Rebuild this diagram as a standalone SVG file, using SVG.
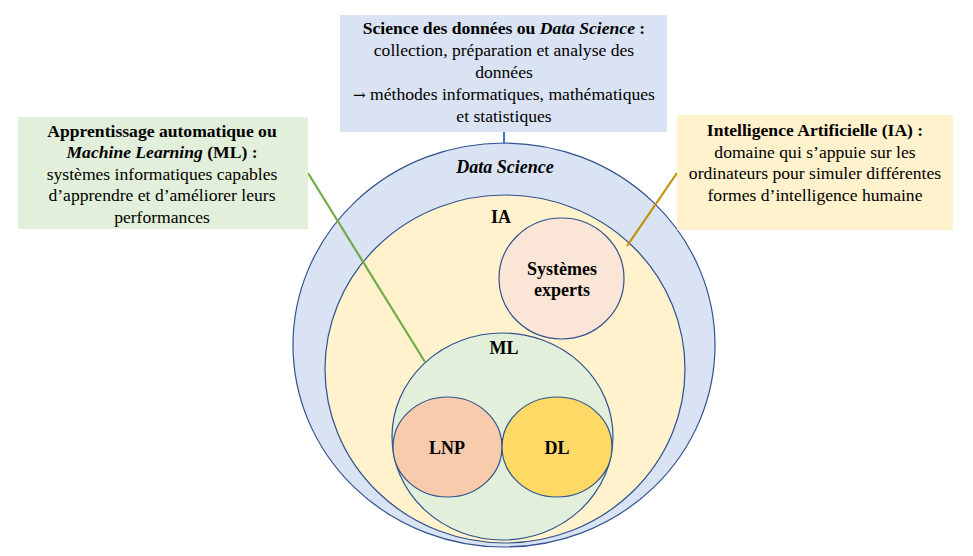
<svg xmlns="http://www.w3.org/2000/svg" width="973" height="556" viewBox="0 0 973 556">
<style>
text{font-family:"Liberation Serif","Times New Roman",serif;font-size:17.6px;fill:#000;text-anchor:middle}
.b{font-weight:bold}
.i{font-style:italic}
.lbl{font-weight:bold;font-size:18px}
.c{stroke:#2f528f;stroke-width:1.2}
</style>
<rect width="973" height="556" fill="#fff"/>
<g id="data-science">
<ellipse class="c" cx="504" cy="345" rx="211" ry="202" fill="#dae3f3"/>
<text class="lbl i" x="505" y="173">Data Science</text>
</g>
<g id="ia">
<ellipse class="c" cx="505" cy="369" rx="180" ry="174" fill="#fff2cc"/>
<text class="lbl" x="501" y="223">IA</text>
</g>
<g id="systemes-experts">
<ellipse class="c" cx="561.5" cy="278.5" rx="62.5" ry="60.5" fill="#fbe5d6"/>
<text class="lbl" x="562" y="275">Systèmes</text>
<text class="lbl" x="562" y="296">experts</text>
</g>
<g id="ml">
<ellipse class="c" cx="502.5" cy="436.5" rx="110.5" ry="103.5" fill="#e2efda"/>
<text class="lbl" x="504" y="354">ML</text>
</g>
<g id="lnp">
<ellipse class="c" cx="447.5" cy="447" rx="54.5" ry="50" fill="#f8cbad"/>
<text class="lbl" x="447" y="454">LNP</text>
</g>
<g id="dl">
<ellipse class="c" cx="557" cy="447" rx="55" ry="50" fill="#ffd966"/>
<text class="lbl" x="557" y="454">DL</text>
</g>
<g id="connectors">
<line x1="504" y1="132" x2="504" y2="144" stroke="#4472c4" stroke-width="2"/>
<line x1="308" y1="173" x2="425" y2="362" stroke="#70ad47" stroke-width="2.2"/>
<line x1="677" y1="173" x2="627" y2="246" stroke="#bf9000" stroke-width="2.2"/>
</g>
<g id="box-data-science">
<rect x="340" y="15" width="327" height="117" fill="#dae3f3"/>
<text x="504" y="34"><tspan class="b">Science des données ou </tspan><tspan class="b i">Data Science</tspan><tspan class="b"> :</tspan></text>
<text x="504" y="56">collection, préparation et analyse des</text>
<text x="504" y="78">données</text>
<text x="504" y="100"><tspan font-family="DejaVu Serif" font-size="15">→</tspan> méthodes informatiques, mathématiques</text>
<text x="504" y="122">et statistiques</text>
</g>
<g id="box-ml">
<rect x="18" y="117" width="290" height="112" fill="#e2efda"/>
<text x="162" y="137" class="b">Apprentissage automatique ou</text>
<text x="162" y="158"><tspan class="b i">Machine Learning</tspan><tspan class="b"> (ML) :</tspan></text>
<text x="162" y="180">systèmes informatiques capables</text>
<text x="162" y="201">d’apprendre et d’améliorer leurs</text>
<text x="162" y="223">performances</text>
</g>
<g id="box-ia">
<rect x="677" y="115" width="276" height="115" fill="#fff2cc"/>
<text x="815" y="136" class="b">Intelligence Artificielle (IA) :</text>
<text x="815" y="158">domaine qui s’appuie sur les</text>
<text x="815" y="179">ordinateurs pour simuler différentes</text>
<text x="815" y="201">formes d’intelligence humaine</text>
</g>
</svg>
